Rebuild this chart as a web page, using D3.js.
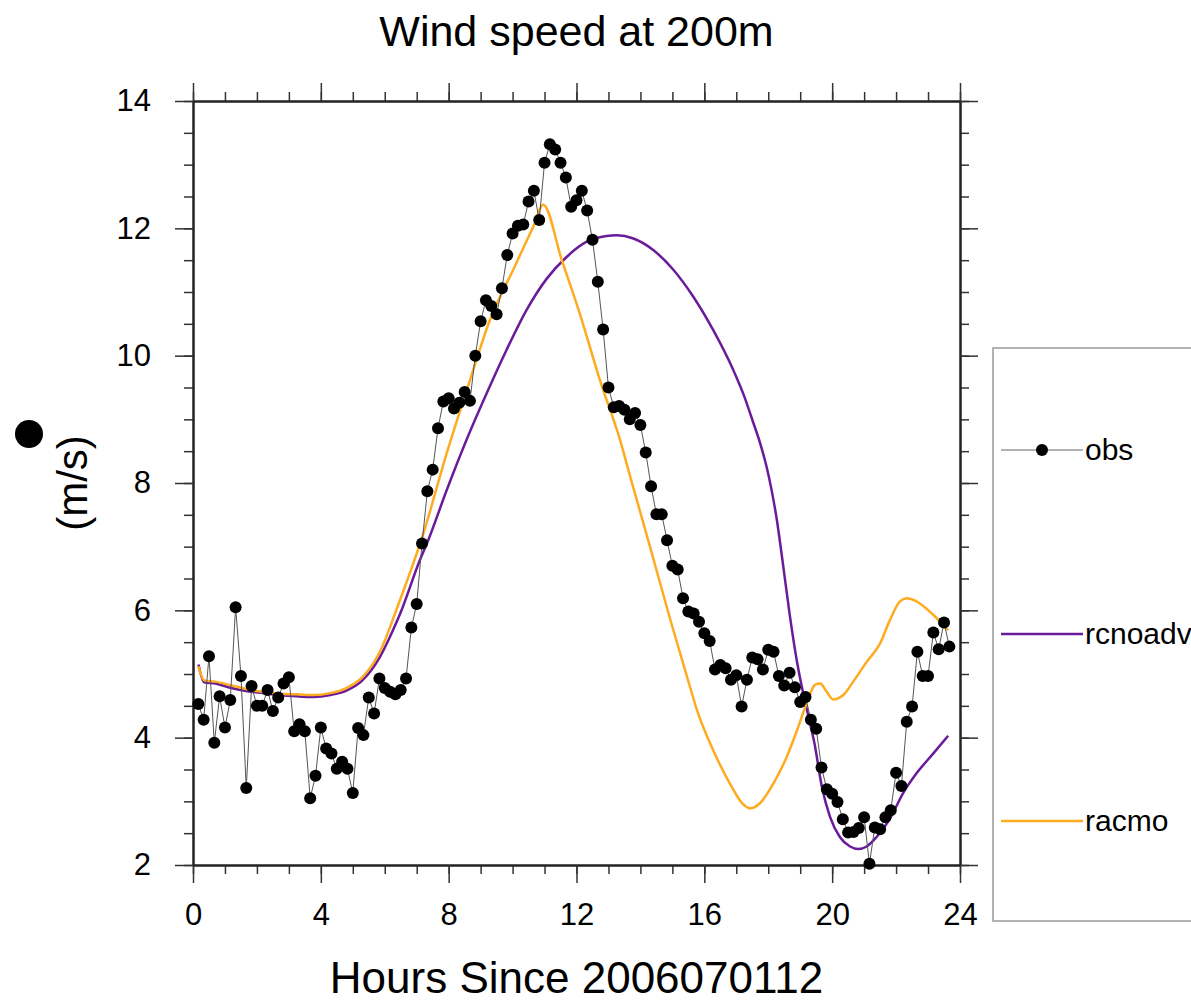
<!DOCTYPE html>
<meta charset="utf-8">
<style>
  body { margin: 0; background: #fff; }
  svg text { font-family: "Liberation Sans", Arial, sans-serif; fill: #000; }
  .axis path { stroke: #222; stroke-width: 2; }
  .axis line { stroke: #333; stroke-width: 1.5; }
</style>
<script src="https://d3js.org/d3.v7.min.js"></script>
<div id="chart"></div>
<script>

// obs: every 10 minutes, starting at 0h10
var obsWind = [4.53,4.28,5.28,3.92,4.65,4.16,4.59,6.05,4.97,3.21,
  4.81,4.50,4.50,4.75,4.42,4.63,4.85,4.95,4.10,4.21,
  4.10,3.05,3.40,4.16,3.83,3.75,3.51,3.62,3.51,3.13,
  4.15,4.04,4.63,4.38,4.93,4.78,4.72,4.68,4.75,4.93,
  5.73,6.10,7.05,7.87,8.21,8.86,9.28,9.33,9.17,9.26,
  9.43,9.29,10.0,10.54,10.87,10.78,10.65,11.06,11.58,11.92,
  12.04,12.06,12.42,12.59,12.13,13.03,13.32,13.24,13.03,12.80,
  12.34,12.44,12.59,12.28,11.82,11.16,10.41,9.50,9.19,9.21,
  9.15,9.00,9.10,8.91,8.48,7.95,7.51,7.51,7.10,6.70,
  6.64,6.19,5.98,5.95,5.82,5.64,5.52,5.07,5.14,5.09,
  4.91,4.98,4.49,4.91,5.26,5.23,5.07,5.38,5.35,4.97,
  4.82,5.02,4.79,4.56,4.64,4.28,4.14,3.53,3.19,3.12,
  2.99,2.72,2.51,2.52,2.58,2.75,2.02,2.59,2.56,2.75,
  2.86,3.45,3.24,4.25,4.49,5.35,4.97,4.97,5.65,5.39,
  5.81,5.43];
var obsHours = obsWind.map(function(d, i) { return (i + 1) / 6; });

var rcHours = [0.17,0.35,0.7,1.2,1.7,2.2,2.7,3.25,3.75,4.3,4.8,5.3,5.85,6.25,6.5,7.1,7.36,7.94,
  8.56,9.19,9.81,10.44,11.07,11.69,12.32,12.94,13.26,13.78,14.4,15.03,15.65,16.28,16.91,17.22,
  17.53,17.75,17.95,18.1,18.26,18.47,18.68,18.89,19.1,19.31,19.45,19.67,19.93,20.24,20.56,20.82,21.08,
  21.39,21.81,22.22,22.64,23.16,23.63];
var rcWind = [5.15,4.87,4.85,4.78,4.73,4.70,4.67,4.65,4.64,4.67,4.74,4.90,5.27,5.68,5.97,6.79,7.10,7.89,
  8.68,9.41,10.09,10.72,11.21,11.55,11.79,11.88,11.89,11.84,11.66,11.35,10.93,10.40,9.77,9.40,
  8.95,8.62,8.25,7.90,7.45,6.69,5.90,5.22,4.68,4.22,3.90,3.25,2.76,2.44,2.29,2.25,2.29,
  2.44,2.73,3.13,3.44,3.75,4.03];

var racHours = [0.17,0.35,0.7,1.2,1.7,2.2,2.7,3.25,3.75,4.3,4.8,5.3,5.85,6.43,7.21,7.94,8.67,9.29,
  10.02,10.65,10.96,11.54,12.11,12.73,13.36,13.67,14.3,14.92,15.24,15.55,15.76,16.28,16.8,17.22,
  17.45,17.74,18.16,18.58,18.94,19.2,19.46,19.62,19.83,20.03,20.35,20.66,21.08,21.5,21.81,
  22.12,22.33,22.64,23.16,23.63];
var racWind = [5.12,4.90,4.88,4.82,4.76,4.72,4.69,4.68,4.67,4.70,4.78,4.95,5.35,6.10,7.21,8.47,9.62,10.56,
  11.35,12.03,12.37,11.50,10.65,9.62,8.68,8.12,7.00,5.88,5.33,4.80,4.45,3.80,3.28,2.95,
  2.89,2.97,3.28,3.70,4.17,4.54,4.83,4.85,4.72,4.60,4.67,4.88,5.19,5.48,5.85,
  6.14,6.19,6.14,5.93,5.69];

var legendNames = ["obs", "rcnoadv", "racmo"];
var xMajor = [0, 4, 8, 12, 16, 20, 24];
var yMajor = [2, 4, 6, 8, 10, 12, 14];

var purple = "#6a1b9a", orange = "#ffab1f";

var W = 1191, H = 1005;
var svg = d3.select("#chart").append("svg")
    .attr("width", W).attr("height", H);

var x = d3.scaleLinear().domain([0, 24]).range([193, 960]);
var y = d3.scaleLinear().domain([2, 14]).range([865, 101]);

// minor ticks first, then major ticks with labels
var xMinor = d3.range(0, 25, 1), yMinor = d3.range(2, 14.01, 0.5);

function minorAxis(axis, vals) {
  return axis.tickValues(vals).tickSize(9).tickSizeOuter(0).tickFormat("");
}
svg.append("g").attr("class", "axis").attr("transform", "translate(0,865)")
  .call(minorAxis(d3.axisBottom(x), xMinor));
svg.append("g").attr("class", "axis").attr("transform", "translate(0,101)")
  .call(minorAxis(d3.axisTop(x), xMinor));
svg.append("g").attr("class", "axis").attr("transform", "translate(193,0)")
  .call(minorAxis(d3.axisLeft(y), yMinor));
svg.append("g").attr("class", "axis").attr("transform", "translate(960,0)")
  .call(minorAxis(d3.axisRight(y), yMinor));

var xb = svg.append("g").attr("class", "axis").attr("transform", "translate(0,865)")
  .call(d3.axisBottom(x).tickValues(xMajor).tickSize(18).tickSizeOuter(0).tickPadding(20));
xb.selectAll("text").style("font-size", "31px");
svg.append("g").attr("class", "axis").attr("transform", "translate(0,101)")
  .call(d3.axisTop(x).tickValues(xMajor).tickSize(18).tickSizeOuter(0).tickFormat(""));
var yl = svg.append("g").attr("class", "axis").attr("transform", "translate(193,0)")
  .call(d3.axisLeft(y).tickValues(yMajor).tickSize(18).tickSizeOuter(0).tickPadding(24));
yl.selectAll("text").style("font-size", "31px");
svg.append("g").attr("class", "axis").attr("transform", "translate(960,0)")
  .call(d3.axisRight(y).tickValues(yMajor).tickSize(18).tickSizeOuter(0).tickFormat(""));

svg.selectAll(".axis text").attr("fill", "#000").style("font-family", "'Liberation Sans', Arial, sans-serif");

// model lines
var line = d3.line()
  .x(function(d) { return x(d[0]); })
  .y(function(d) { return y(d[1]); })
  .curve(d3.curveMonotoneX);

svg.append("path")
  .datum(d3.zip(rcHours, rcWind))
  .attr("d", line).attr("fill", "none")
  .attr("stroke", purple).attr("stroke-width", 2.5);

svg.append("path")
  .datum(d3.zip(racHours, racWind))
  .attr("d", line).attr("fill", "none")
  .attr("stroke", orange).attr("stroke-width", 2.5);

// obs
var obs = d3.zip(obsHours, obsWind);
svg.append("path")
  .datum(obs)
  .attr("d", line.curve(d3.curveLinear)).attr("fill", "none")
  .attr("stroke", "#555").attr("stroke-width", 1);
svg.selectAll(".obsdot")
  .data(obs).enter().append("circle")
  .attr("class", "obsdot")
  .attr("cx", function(d) { return x(d[0]); })
  .attr("cy", function(d) { return y(d[1]); })
  .attr("r", 6).attr("fill", "#000");

// titles
svg.append("text").attr("x", 576.5).attr("y", 46)
  .attr("text-anchor", "middle").style("font-size", "43px")
  .text("Wind speed at 200m");
svg.append("text").attr("x", 576.5).attr("y", 993)
  .attr("text-anchor", "middle").style("font-size", "44px")
  .text("Hours Since 2006070112");
svg.append("text")
  .attr("transform", "translate(87,483) rotate(-90)")
  .attr("text-anchor", "middle").style("font-size", "42px")
  .text("(m/s)");
svg.append("circle").attr("cx", 29).attr("cy", 434).attr("r", 14).attr("fill", "#000");

// legend
var leg = svg.append("g");
leg.append("rect").attr("x", 993).attr("y", 348).attr("width", 260).attr("height", 573)
  .attr("fill", "none").attr("stroke", "#999").attr("stroke-width", 1.5);
var legY = [450, 634, 821];
var legColor = ["#666", purple, orange];
legendNames.forEach(function(name, i) {
  leg.append("line").attr("x1", 1001).attr("x2", 1083)
    .attr("y1", legY[i]).attr("y2", legY[i])
    .attr("stroke", legColor[i]).attr("stroke-width", i === 0 ? 1 : 2.5);
  leg.append("text").attr("x", 1085).attr("y", legY[i] + 10)
    .style("font-size", "30px").text(name);
});
leg.append("circle").attr("cx", 1042).attr("cy", 450).attr("r", 6).attr("fill", "#000");

</script>
